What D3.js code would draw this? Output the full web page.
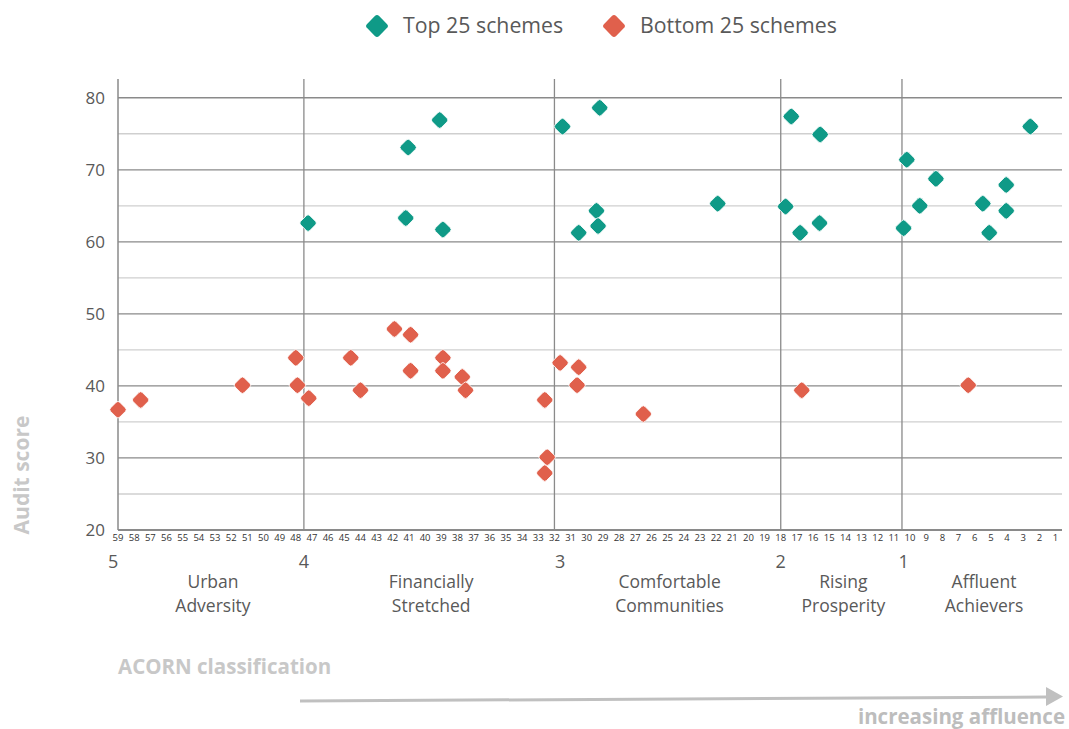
<!DOCTYPE html>
<html>
<head>
<meta charset="utf-8">
<script src="https://cdn.jsdelivr.net/npm/d3@7"></script>
<style>
  html, body { margin: 0; padding: 0; background: #fff; }
  svg { display: block; font-family: "Open Sans", "DejaVu Sans", sans-serif; }
</style>
</head>
<body>
<svg id="chart" width="1069" height="729"></svg>
<script>
// ---- data ----
const topX = [47.24, 41.05, 41.2, 39.1, 38.9, 31.5, 29.2, 30.5, 29.4, 29.3, 21.9, 17.35, 15.56, 17.7, 16.8, 15.6, 10.2, 8.4, 9.4, 10.4, 5.5, 5.1, 4.05, 4.05, 2.56];
const topY = [62.6, 73.1, 63.3, 76.9, 61.7, 76.0, 78.6, 61.25, 64.3, 62.2, 65.3, 77.4, 74.9, 64.9, 61.25, 62.6, 71.4, 68.75, 65.0, 61.9, 65.3, 61.25, 67.9, 64.3, 76.0];
const bottomX = [59.0, 57.6, 51.3, 48.0, 47.9, 47.2, 44.6, 44.0, 41.9, 40.9, 40.9, 38.9, 38.9, 37.7, 37.5, 32.6, 32.45, 32.6, 31.65, 30.5, 30.6, 26.5, 16.7, 6.4];
const bottomY = [36.7, 38.05, 40.1, 43.9, 40.1, 38.3, 43.9, 39.4, 47.9, 47.1, 42.1, 43.9, 42.1, 41.25, 39.4, 38.05, 30.1, 27.9, 43.2, 42.6, 40.1, 36.1, 39.4, 40.1];
const acornTypes = d3.range(59, 0, -1);           // tick labels 59..1
const yTicks = [20, 30, 40, 50, 60, 70, 80];
const groupNumbers = ["5", "4", "3", "2", "1"];
const groupNumberAt = [59.3, 47.5, 31.65, 18, 10.4];
const groupNames = [["Urban", "Adversity"], ["Financially", "Stretched"], ["Comfortable", "Communities"], ["Rising", "Prosperity"], ["Affluent", "Achievers"]];
const groupStarts = [59, 47.5, 32, 18, 10.5];
const groupEnd = 0.6;
const seriesNames = ["Top 25 schemes", "Bottom 25 schemes"];
const seriesColors = ["#0f9a87", "#e0604c"];

// ---- layout ----
const svg = d3.select("#chart");
const pL = 118, pR = 1062, pT = 79, pB = 530;
const x = d3.scaleLinear().domain([59, groupEnd]).range([pL, pR]);
const y = d3.scaleLinear().domain([20, 82.6]).range([pB, pT]);

// minor gridlines (every 5)
const minor = d3.range(25, 81, 10);
svg.append("g").selectAll("line").data(minor).join("line")
  .attr("x1", pL).attr("x2", pR)
  .attr("y1", d => y(d)).attr("y2", d => y(d))
  .attr("stroke", "#cfcfcf").attr("stroke-width", 1.3);
// major gridlines
svg.append("g").selectAll("line").data(yTicks.filter(d => d > 20)).join("line")
  .attr("x1", pL).attr("x2", pR)
  .attr("y1", d => y(d)).attr("y2", d => y(d))
  .attr("stroke", "#8a8a8a").attr("stroke-width", 1.3);

// group separators
svg.append("g").selectAll("line").data(groupStarts.slice(1)).join("line")
  .attr("x1", d => x(d)).attr("x2", d => x(d))
  .attr("y1", pT).attr("y2", pB)
  .attr("stroke", "#8a8a8a").attr("stroke-width", 1.3);

// axes lines
svg.append("line").attr("x1", pL).attr("x2", pL).attr("y1", pT).attr("y2", pB)
  .attr("stroke", "#8a8a8a").attr("stroke-width", 1.5);
svg.append("line").attr("x1", pL).attr("x2", pR).attr("y1", pB).attr("y2", pB)
  .attr("stroke", "#8a8a8a").attr("stroke-width", 2);

// y tick labels
svg.append("g").selectAll("text").data(yTicks).join("text")
  .attr("x", 105).attr("y", d => y(d)).attr("dy", "0.36em")
  .attr("text-anchor", "end").attr("font-size", 17).attr("fill", "#595959")
  .text(d => d);

// x tick labels
svg.append("g").selectAll("text").data(acornTypes).join("text")
  .attr("x", d => x(d)).attr("y", 541)
  .attr("text-anchor", "middle").attr("font-size", 9.5).attr("fill", "#333")
  .text(d => d);

// group numbers
svg.append("g").selectAll("text").data(groupNumbers).join("text")
  .attr("x", (d, i) => x(groupNumberAt[i]))
  .attr("y", 568).attr("text-anchor", "middle")
  .attr("font-size", 18).attr("fill", "#595959")
  .text(d => d);

// group names
const gn = svg.append("g").selectAll("text").data(groupNames).join("text")
  .attr("text-anchor", "middle").attr("font-size", 17.5).attr("fill", "#595959")
  .attr("transform", (d, i) => {
    const a = x(groupStarts[i]);
    const b = i < groupStarts.length - 1 ? x(groupStarts[i + 1]) : x(groupEnd);
    return `translate(${(a + b) / 2 + 2},0)`;
  });
gn.selectAll("tspan").data(d => d).join("tspan")
  .attr("x", 0).attr("y", (d, i) => 588 + i * 24).text(d => d);

// diamonds
function diamonds(xs, ys, color) {
  svg.append("g").selectAll("rect").data(xs.map((v, i) => [v, ys[i]])).join("rect")
    .attr("x", -6.5).attr("y", -6.5).attr("width", 13).attr("height", 13)
    .attr("rx", 2.5).attr("ry", 2.5)
    .attr("transform", d => `translate(${x(d[0])},${y(d[1])}) rotate(45)`)
    .attr("fill", color).attr("stroke", "#fff").attr("stroke-width", 0.8);
}
diamonds(bottomX, bottomY, seriesColors[1]);
diamonds(topX, topY, seriesColors[0]);

// legend
const legendX = [377, 614];
const lg = svg.append("g").selectAll("g").data(seriesNames).join("g")
  .attr("transform", (d, i) => `translate(${legendX[i]},26)`);
lg.append("rect").attr("x", -8.5).attr("y", -8.5).attr("width", 17).attr("height", 17)
  .attr("rx", 3).attr("ry", 3).attr("transform", "rotate(45)")
  .attr("fill", (d, i) => seriesColors[i]);
lg.append("text").attr("x", 26).attr("y", 0).attr("dy", "0.35em")
  .attr("font-size", 21.3).attr("fill", "#595959").text(d => d);

// axis titles
svg.append("text").attr("x", 118).attr("y", 674)
  .attr("font-size", 20.5).attr("font-weight", "bold").attr("fill", "#c8c8c8")
  .text("ACORN classification");
svg.append("text").attr("transform", "translate(29,475) rotate(-90)")
  .attr("text-anchor", "middle").attr("font-size", 21).attr("font-weight", "bold").attr("fill", "#c8c8c8")
  .text("Audit score");

// arrow
svg.append("line").attr("x1", 300).attr("y1", 701).attr("x2", 1046).attr("y2", 697)
  .attr("stroke", "#c0c0c0").attr("stroke-width", 3);
svg.append("path").attr("d", "M1046,687 L1063,696.5 L1046,706 Z").attr("fill", "#c0c0c0");
svg.append("text").attr("x", 1065).attr("y", 724).attr("text-anchor", "end")
  .attr("font-size", 20.5).attr("font-weight", "bold").attr("fill", "#bdbdbd")
  .text("increasing affluence");
</script>
</body>
</html>
